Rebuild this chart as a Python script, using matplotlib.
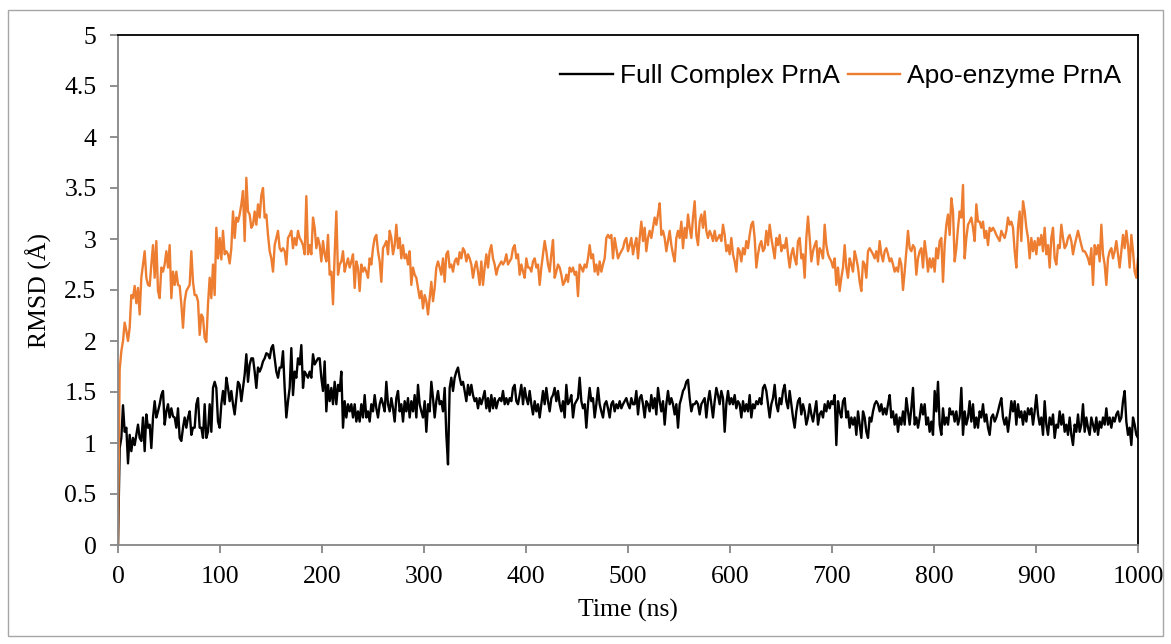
import numpy as np
import matplotlib
matplotlib.use("Agg")
import matplotlib.pyplot as plt
from matplotlib.patches import Rectangle

# RMSD (Å), evenly spaced from 0 to 1000 ns
full_complex_rmsd = [
    # 0-95 ns
    0.00, 0.95, 1.05, 1.37, 1.11, 1.15, 0.80, 1.08, 0.92, 1.05, 0.98, 1.08, 1.18, 1.05, 1.02, 1.25,
    0.92, 1.28, 1.15, 1.18, 0.95, 1.25, 1.41, 1.25, 1.31, 1.38, 1.47, 1.51, 1.18, 1.31, 1.38, 1.25,
    1.34, 1.26, 1.25, 1.15, 1.34, 1.05, 1.02, 1.15, 1.25, 1.15, 1.25, 1.31, 1.08, 1.15, 1.15, 1.38,
    1.44, 1.15, 1.15, 1.05, 1.38, 1.05, 1.11, 1.38, 1.11, 1.54,
    # 95-198 ns
    1.60, 1.54, 1.21, 1.15, 1.38, 1.51, 1.38, 1.64, 1.54, 1.41, 1.51, 1.38, 1.28, 1.44, 1.60, 1.57,
    1.41, 1.54, 1.67, 1.87, 1.60, 1.77, 1.83, 1.83, 1.70, 1.54, 1.74, 1.70, 1.74, 1.80, 1.83, 1.88,
    1.87, 1.83, 1.93, 1.96, 1.83, 1.70, 1.64, 1.74, 1.74, 1.90, 1.54, 1.25, 1.41, 1.54, 1.93, 1.47,
    1.70, 1.64, 1.83, 1.77, 1.96, 1.54, 1.70, 1.67, 1.64, 1.70, 1.64, 1.87, 1.77, 1.80, 1.83,
    # 198-301 ns
    1.83, 1.64, 1.51, 1.80, 1.31, 1.57, 1.41, 1.54, 1.38, 1.60, 1.38, 1.57, 1.51, 1.70, 1.15, 1.41,
    1.25, 1.38, 1.31, 1.38, 1.25, 1.38, 1.21, 1.31, 1.21, 1.38, 1.25, 1.47, 1.25, 1.31, 1.21, 1.38,
    1.31, 1.47, 1.34, 1.25, 1.38, 1.44, 1.38, 1.31, 1.60, 1.38, 1.31, 1.44, 1.34, 1.21, 1.44, 1.51,
    1.31, 1.38, 1.21, 1.41, 1.31, 1.44, 1.25, 1.41, 1.31, 1.47, 1.25, 1.57, 1.38, 1.31, 1.25,
    # 301-404 ns
    1.41, 1.11, 1.38, 1.31, 1.60, 1.44, 1.25, 1.41, 1.51, 1.38, 1.41, 1.31, 1.54, 1.08, 0.79, 1.54,
    1.64, 1.51, 1.64, 1.70, 1.74, 1.64, 1.57, 1.60, 1.51, 1.41, 1.57, 1.47, 1.57, 1.47, 1.41, 1.44,
    1.34, 1.44, 1.38, 1.44, 1.51, 1.34, 1.44, 1.31, 1.47, 1.34, 1.44, 1.34, 1.41, 1.44, 1.41, 1.51,
    1.38, 1.44, 1.38, 1.44, 1.41, 1.54, 1.57, 1.41, 1.38, 1.47, 1.57, 1.38, 1.54, 1.44, 1.38,
    # 404-507 ns
    1.51, 1.38, 1.28, 1.41, 1.31, 1.38, 1.25, 1.38, 1.51, 1.38, 1.54, 1.41, 1.31, 1.44, 1.47, 1.54,
    1.41, 1.51, 1.38, 1.31, 1.41, 1.25, 1.57, 1.38, 1.41, 1.47, 1.25, 1.38, 1.41, 1.44, 1.64, 1.41,
    1.34, 1.38, 1.15, 1.38, 1.54, 1.41, 1.44, 1.25, 1.38, 1.54, 1.38, 1.31, 1.25, 1.38, 1.41, 1.34,
    1.25, 1.38, 1.41, 1.31, 1.38, 1.34, 1.41, 1.34, 1.38, 1.41, 1.44, 1.38, 1.34, 1.44, 1.38,
    # 507-610 ns
    1.38, 1.51, 1.28, 1.44, 1.47, 1.38, 1.25, 1.41, 1.38, 1.31, 1.47, 1.34, 1.44, 1.28, 1.54, 1.41,
    1.31, 1.41, 1.18, 1.38, 1.51, 1.38, 1.44, 1.38, 1.28, 1.38, 1.15, 1.38, 1.44, 1.51, 1.54, 1.60,
    1.62, 1.44, 1.31, 1.38, 1.38, 1.41, 1.38, 1.28, 1.38, 1.41, 1.44, 1.25, 1.41, 1.51, 1.38, 1.25,
    1.41, 1.54, 1.47, 1.38, 1.51, 1.44, 1.11, 1.38, 1.51, 1.38, 1.44, 1.38, 1.47, 1.34, 1.41,
    # 610-713 ns
    1.38, 1.25, 1.41, 1.31, 1.38, 1.31, 1.47, 1.25, 1.38, 1.34, 1.41, 1.38, 1.44, 1.38, 1.54, 1.57,
    1.51, 1.38, 1.25, 1.38, 1.44, 1.57, 1.38, 1.31, 1.44, 1.38, 1.51, 1.57, 1.41, 1.34, 1.51, 1.38,
    1.25, 1.15, 1.31, 1.41, 1.44, 1.28, 1.38, 1.31, 1.18, 1.25, 1.38, 1.28, 1.21, 1.31, 1.41, 1.18,
    1.28, 1.31, 1.25, 1.38, 1.31, 1.41, 1.34, 1.41, 1.38, 1.47, 0.98, 1.41, 1.31, 1.25, 1.41,
    # 713-816 ns
    1.44, 1.25, 1.31, 1.15, 1.25, 1.18, 1.25, 1.08, 1.31, 1.18, 1.05, 1.31, 1.25, 1.11, 1.05, 1.25,
    1.21, 1.31, 1.38, 1.41, 1.38, 1.31, 1.38, 1.28, 1.34, 1.28, 1.38, 1.47, 1.25, 1.31, 1.18, 1.28,
    1.11, 1.25, 1.18, 1.31, 1.18, 1.44, 1.31, 1.18, 1.34, 1.54, 1.18, 1.25, 1.15, 1.25, 1.38, 1.28,
    1.38, 1.18, 1.25, 1.11, 1.21, 1.08, 1.51, 1.31, 1.60, 1.18, 1.08, 1.34, 1.18, 1.25, 1.18,
    # 816-904 ns
    1.34, 1.28, 1.31, 1.21, 1.31, 1.18, 1.25, 1.54, 1.08, 1.31, 1.18, 1.25, 1.41, 1.21, 1.38, 1.15,
    1.25, 1.15, 1.31, 1.25, 1.38, 1.21, 1.28, 1.15, 1.08, 1.25, 1.28, 1.21, 1.25, 1.31, 1.38, 1.44,
    1.25, 1.18, 1.25, 1.11, 1.25, 1.41, 1.31, 1.41, 1.18, 1.38, 1.25, 1.31, 1.18, 1.31, 1.21, 1.34,
    1.28, 1.34, 1.18, 1.31, 1.47, 1.28,
    # 904-1000 ns
    1.18, 1.25, 1.08, 1.41, 1.18, 1.08, 1.25, 1.18, 1.28, 1.05, 1.18, 1.15, 1.31, 1.18, 1.28, 1.11,
    1.18, 1.08, 1.25, 1.08, 0.98, 1.18, 1.11, 1.28, 1.11, 1.18, 1.38, 1.11, 1.25, 1.15, 1.08, 1.25,
    1.18, 1.11, 1.25, 1.08, 1.21, 1.15, 1.25, 1.18, 1.34, 1.18, 1.25, 1.15, 1.25, 1.21, 1.28, 1.31,
    1.21, 1.25, 1.41, 1.51, 1.21, 1.08, 1.15, 0.98, 1.25, 1.18, 1.08, 1.05,
]

apo_enzyme_rmsd = [
    # 0-95 ns
    0.00, 1.72, 1.90, 2.00, 2.18, 2.10, 2.00, 2.13, 2.45, 2.42, 2.54, 2.37, 2.52, 2.26, 2.62, 2.75,
    2.88, 2.62, 2.55, 2.54, 2.75, 2.94, 2.62, 2.98, 2.49, 2.42, 2.72, 2.68, 2.75, 2.88, 2.72, 2.94,
    2.42, 2.68, 2.55, 2.68, 2.55, 2.54, 2.36, 2.13, 2.39, 2.49, 2.52, 2.55, 2.88, 2.58, 2.45, 2.45,
    2.39, 2.06, 2.26, 2.23, 2.03, 1.99, 2.36, 2.62, 2.42, 2.75,
    # 95-198 ns
    2.45, 3.11, 2.81, 3.01, 2.80, 3.08, 2.85, 2.88, 2.85, 2.76, 2.91, 3.27, 3.01, 3.21, 3.17, 3.24,
    3.34, 3.47, 2.98, 3.60, 3.27, 3.24, 3.11, 3.14, 3.27, 3.14, 3.34, 3.21, 3.43, 3.50, 3.21, 3.24,
    3.04, 2.88, 2.81, 2.68, 2.94, 3.01, 3.08, 2.91, 2.88, 2.91, 2.88, 2.75, 3.01, 3.04, 3.08, 2.91,
    3.01, 2.94, 3.08, 3.01, 2.98, 2.94, 2.85, 3.42, 2.85, 2.94, 2.85, 3.21, 3.11, 2.91, 3.01,
    # 198-301 ns
    2.94, 2.78, 2.98, 2.85, 2.78, 3.04, 2.65, 2.68, 2.36, 2.85, 3.27, 2.65, 2.75, 2.78, 2.88, 2.68,
    2.75, 2.81, 2.72, 2.78, 2.85, 2.52, 2.78, 2.72, 2.49, 2.75, 2.68, 2.72, 2.68, 2.62, 2.81, 2.75,
    2.91, 3.01, 3.04, 2.88, 2.78, 2.58, 2.91, 2.94, 2.98, 2.85, 3.08, 3.01, 2.85, 2.94, 3.14, 2.91,
    3.01, 2.81, 2.94, 2.81, 2.85, 2.75, 2.88, 2.55, 2.72, 2.65, 2.62, 2.52, 2.42, 2.49, 2.32,
    # 301-404 ns
    2.45, 2.39, 2.26, 2.42, 2.58, 2.39, 2.52, 2.72, 2.78, 2.72, 2.65, 2.81, 2.58, 2.85, 2.88, 2.72,
    2.75, 2.68, 2.78, 2.81, 2.75, 2.87, 2.81, 2.91, 2.88, 2.78, 2.85, 2.81, 2.75, 2.62, 2.72, 2.78,
    2.68, 2.55, 2.78, 2.55, 2.72, 2.85, 2.72, 2.88, 2.94, 2.81, 2.75, 2.65, 2.72, 2.75, 2.78, 2.75,
    2.78, 2.85, 2.75, 2.78, 2.81, 2.91, 2.94, 2.81, 2.85, 2.65, 2.75, 2.68, 2.62, 2.81, 2.72,
    # 404-507 ns
    2.72, 2.68, 2.78, 2.81, 2.72, 2.75, 2.55, 2.72, 2.85, 2.98, 2.88, 2.75, 2.68, 2.85, 2.99, 2.62,
    2.68, 2.75, 2.72, 2.65, 2.55, 2.58, 2.65, 2.58, 2.72, 2.68, 2.72, 2.65, 2.68, 2.44, 2.75, 2.72,
    2.68, 2.75, 2.72, 2.81, 2.94, 2.81, 2.85, 2.68, 2.75, 2.65, 2.78, 2.68, 2.75, 2.81, 3.01, 3.04,
    3.01, 3.04, 2.81, 3.01, 2.91, 2.81, 2.85, 2.88, 2.91, 2.98, 3.01, 2.88, 2.94, 3.01, 2.85,
    # 507-610 ns
    2.94, 3.01, 2.81, 3.01, 3.17, 2.98, 3.11, 2.88, 3.01, 3.08, 3.01, 3.11, 3.21, 3.14, 3.24, 3.35,
    3.04, 3.08, 3.01, 2.88, 2.98, 3.08, 2.94, 2.85, 2.78, 3.01, 3.08, 3.01, 3.17, 2.91, 3.11, 3.01,
    3.24, 3.11, 3.01, 3.21, 3.37, 3.04, 2.94, 3.17, 3.24, 3.11, 3.27, 3.08, 3.01, 3.08, 3.04, 2.98,
    3.08, 2.98, 3.01, 3.04, 2.98, 3.14, 3.04, 2.88, 2.94, 2.85, 3.01, 2.85, 2.78, 2.68, 2.91,
    # 610-713 ns
    2.88, 2.78, 2.91, 2.85, 2.98, 2.91, 3.04, 3.14, 3.17, 3.01, 2.72, 2.85, 2.94, 2.98, 2.88, 2.91,
    3.08, 2.94, 3.14, 3.01, 2.91, 2.81, 3.01, 2.94, 3.04, 2.88, 2.94, 2.91, 3.01, 2.85, 2.72, 2.85,
    2.91, 2.81, 2.75, 2.98, 3.01, 2.81, 2.85, 2.62, 3.01, 3.22, 3.01, 2.78, 2.88, 2.94, 2.98, 2.75,
    2.91, 2.88, 2.81, 3.14, 2.94, 2.85, 2.81, 2.78, 2.72, 2.81, 2.55, 2.72, 2.49, 2.62, 2.72,
    # 713-816 ns
    2.94, 2.72, 2.62, 2.81, 2.75, 2.68, 2.88, 2.81, 2.72, 2.58, 2.49, 2.78, 2.75, 2.62, 2.88, 2.91,
    2.88, 2.85, 2.81, 2.88, 2.78, 2.98, 2.85, 2.78, 2.88, 2.91, 2.85, 2.78, 2.81, 2.75, 2.68, 2.72,
    2.68, 2.81, 2.75, 2.50, 2.68, 2.88, 3.08, 2.91, 2.88, 2.94, 2.91, 2.65, 2.81, 2.88, 2.91, 2.72,
    2.98, 2.85, 2.68, 2.81, 2.72, 2.81, 2.68, 2.91, 2.81, 2.98, 3.01, 2.58, 2.94, 3.14, 3.24,
    # 816-904 ns
    3.04, 3.40, 3.27, 2.78, 2.91, 3.11, 3.27, 3.21, 3.53, 2.81, 3.01, 3.14, 3.17, 3.21, 3.11, 2.98,
    3.34, 3.17, 3.17, 3.11, 3.17, 3.01, 3.08, 2.94, 3.11, 3.08, 3.11, 3.08, 3.04, 3.01, 2.98, 3.08,
    3.04, 3.01, 3.08, 3.21, 3.14, 3.17, 3.11, 2.88, 2.72, 3.11, 3.27, 2.98, 3.37, 3.27, 3.11, 3.01,
    2.81, 3.01, 2.88, 2.98, 2.85, 3.01,
    # 904-1000 ns
    2.94, 3.04, 2.88, 3.11, 2.85, 2.94, 2.72, 3.01, 3.11, 2.81, 2.75, 2.94, 2.91, 3.14, 3.01, 2.91,
    2.94, 3.01, 3.04, 2.98, 2.85, 2.94, 3.01, 3.08, 3.01, 2.94, 2.88, 2.88, 2.85, 2.81, 2.75, 2.91,
    2.55, 2.94, 2.85, 2.94, 2.78, 3.14, 2.85, 2.75, 2.55, 2.81, 2.88, 2.91, 2.81, 2.88, 2.98, 2.85,
    2.72, 2.88, 3.04, 2.91, 3.08, 2.94, 2.72, 3.04, 2.88, 2.68, 2.62, 2.81,
]

series_labels = ["Full Complex PrnA", "Apo-enzyme PrnA"]
series_colors = ["#000000", "#ED7D31"]
x_ticks = [0, 100, 200, 300, 400, 500, 600, 700, 800, 900, 1000]
y_ticks = [0, 0.5, 1, 1.5, 2, 2.5, 3, 3.5, 4, 4.5, 5]
y_tick_labels = ["0", "0.5", "1", "1.5", "2", "2.5", "3", "3.5", "4", "4.5", "5"]

time_ns = np.linspace(0, 1000, len(full_complex_rmsd))

W, H = 1171, 644
x0, x1, y0, y1 = 118, 1138, 35, 545  # plot area in pixels
fig = plt.figure(figsize=(W / 100, H / 100), dpi=100)
ax = fig.add_axes([x0 / W, 1 - y1 / H, (x1 - x0) / W, (y1 - y0) / H])

ax.plot(time_ns, full_complex_rmsd, color=series_colors[0], lw=1.7,
        label=series_labels[0], solid_joinstyle="round")
ax.plot(time_ns, apo_enzyme_rmsd, color=series_colors[1], lw=1.7,
        label=series_labels[1], solid_joinstyle="round")

ax.set_xlim(0, 1000)
ax.set_ylim(0, 5)
ax.set_xticks(x_ticks)
ax.set_yticks(y_ticks)
ax.set_yticklabels(y_tick_labels)

serif = "Liberation Serif"
FS = 18.5
for lab in ax.get_xticklabels() + ax.get_yticklabels():
    lab.set_fontfamily(serif)
    lab.set_fontsize(FS)
    lab.set_color("#000000")

gray = "#868686"
ax.spines["left"].set_color(gray)
ax.spines["bottom"].set_color(gray)
ax.spines["top"].set_color("#000000")
ax.spines["right"].set_color("#000000")
for s in ax.spines.values():
    s.set_linewidth(1.3)
ax.tick_params(axis="both", direction="out", length=5.5, width=1.3, color=gray)
ax.tick_params(axis="y", pad=10)
ax.tick_params(axis="x", pad=9.5)

ax.set_xlabel("Time (ns)", fontfamily=serif, fontsize=FS)
ax.set_ylabel("RMSD (Å)", fontfamily=serif, fontsize=FS)
ax.xaxis.set_label_coords(0.5, -(599 - y1) / (y1 - y0))
ax.yaxis.set_label_coords(-(118 - 52) / (x1 - x0), 0.5)

leg = ax.legend(loc="center right", ncol=2, frameon=False,
                prop={"family": "Liberation Sans", "size": 19},
                handlelength=2.0, handletextpad=0.25, columnspacing=0.3,
                borderpad=0, borderaxespad=0,
                bbox_to_anchor=((1121 - x0) / (x1 - x0), 1 - (76 - y0) / (y1 - y0)))

fig.patches.append(Rectangle((8 / W, 1 - 636 / H), (1163 - 8) / W, (636 - 10) / H,
                             transform=fig.transFigure, fill=False,
                             edgecolor="#A6A6A6", linewidth=1.0))

fig.savefig("out.png", dpi=100)
